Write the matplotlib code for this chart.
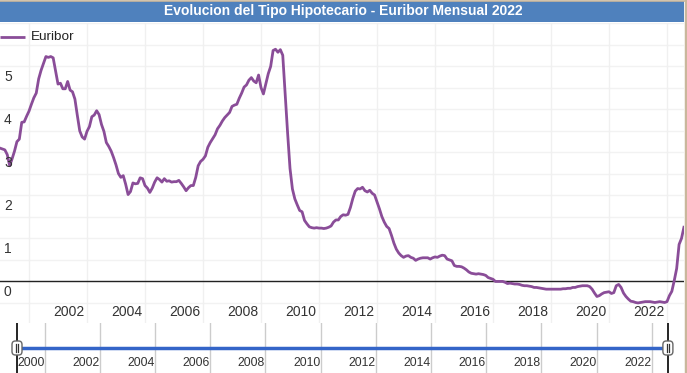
import matplotlib
matplotlib.use("Agg")
import matplotlib.pyplot as plt
from matplotlib.patches import Rectangle, FancyBboxPatch
from matplotlib.lines import Line2D

plt.rcParams['font.family'] = ['Liberation Sans', 'DejaVu Sans']

# monthly Euribor values, Jan 1999 .. Aug 2022
euribor = [
    3.09, 3.07, 3.05, 2.94, 2.68, 2.84, 3.02, 3.24, 3.30, 3.69, 3.70, 3.83,  # 1999
    3.95, 4.11, 4.26, 4.37, 4.70, 4.90, 5.06, 5.22, 5.20, 5.22, 5.19, 4.89,  # 2000
    4.58, 4.60, 4.47, 4.47, 4.64, 4.44, 4.40, 4.23, 3.85, 3.49, 3.35, 3.30,  # 2001
    3.48, 3.59, 3.82, 3.86, 3.96, 3.87, 3.64, 3.48, 3.22, 3.13, 3.02, 2.87,  # 2002
    2.70, 2.50, 2.41, 2.45, 2.25, 2.01, 2.08, 2.28, 2.26, 2.27, 2.40, 2.38,  # 2003
    2.22, 2.16, 2.06, 2.16, 2.30, 2.40, 2.36, 2.30, 2.38, 2.32, 2.33, 2.30,  # 2004
    2.31, 2.31, 2.34, 2.27, 2.19, 2.10, 2.17, 2.22, 2.22, 2.41, 2.68, 2.78,  # 2005
    2.83, 2.91, 3.11, 3.22, 3.31, 3.40, 3.54, 3.62, 3.72, 3.80, 3.86, 3.92,  # 2006
    4.06, 4.09, 4.11, 4.25, 4.37, 4.51, 4.56, 4.67, 4.73, 4.65, 4.61, 4.79,  # 2007
    4.50, 4.35, 4.59, 4.82, 4.99, 5.36, 5.39, 5.32, 5.38, 5.25, 4.35, 3.45,  # 2008
    2.62, 2.14, 1.91, 1.77, 1.64, 1.61, 1.41, 1.33, 1.26, 1.24, 1.23, 1.24,  # 2009
    1.23, 1.23, 1.22, 1.23, 1.25, 1.28, 1.37, 1.42, 1.42, 1.50, 1.54, 1.53,  # 2010
    1.55, 1.71, 1.92, 2.09, 2.15, 2.14, 2.18, 2.10, 2.07, 2.11, 2.04, 2.00,  # 2011
    1.84, 1.68, 1.50, 1.37, 1.27, 1.22, 1.06, 0.88, 0.74, 0.65, 0.59, 0.55,  # 2012
    0.58, 0.59, 0.55, 0.53, 0.48, 0.51, 0.53, 0.54, 0.54, 0.54, 0.51, 0.54,  # 2013
    0.56, 0.55, 0.58, 0.60, 0.59, 0.51, 0.49, 0.47, 0.36, 0.34, 0.34, 0.33,  # 2014
    0.30, 0.26, 0.21, 0.18, 0.17, 0.16, 0.17, 0.16, 0.15, 0.13, 0.08, 0.06,  # 2015
    0.04, -0.01, -0.01, -0.01, -0.01, -0.03, -0.06, -0.05, -0.06, -0.07, -0.07, -0.08,  # 2016
    -0.10, -0.11, -0.11, -0.12, -0.13, -0.15, -0.15, -0.16, -0.17, -0.18, -0.19, -0.19,  # 2017
    -0.19, -0.19, -0.19, -0.19, -0.19, -0.18, -0.18, -0.17, -0.17, -0.15, -0.15, -0.13,  # 2018
    -0.12, -0.11, -0.11, -0.11, -0.13, -0.19, -0.28, -0.36, -0.34, -0.30, -0.27, -0.26,  # 2019
    -0.25, -0.29, -0.27, -0.11, -0.08, -0.15, -0.28, -0.36, -0.42, -0.47, -0.48, -0.50,  # 2020
    -0.51, -0.50, -0.49, -0.48, -0.48, -0.48, -0.49, -0.50, -0.49, -0.48, -0.49, -0.50,  # 2021
    -0.48, -0.34, -0.24, 0.01, 0.29, 0.85, 0.99, 1.25,  # 2022
]
start_year = 1999
dates = [start_year + i / 12.0 for i in range(len(euribor))]

tick_years = list(range(2000, 2023, 2))
label_years = list(range(2002, 2023, 2))
nav_label_years = list(range(2000, 2023, 2))
y_labels = [0, 1, 2, 3, 4, 5]

title = 'Evolucion del Tipo Hipotecario - Euribor Mensual 2022'
series_name = 'Euribor'

W, H = 687, 373
line_color = '#8a4d98'
text_color = '#333333'


def box(x0, y0, x1, y1):
    return [x0 / W, 1 - y1 / H, (x1 - x0) / W, (y1 - y0) / H]


fig = plt.figure(figsize=(W / 100, H / 100), dpi=100)

# title bar
fig.patches.append(Rectangle((0, 1 - 22 / H), 684 / W, 21 / H, transform=fig.transFigure,
                             facecolor='#4f81bd', edgecolor='none'))
fig.text(343 / W, 1 - 11.5 / H, title, color='white', fontsize=10, fontweight='bold',
         ha='center', va='center')

# outer border (top and right)
fig.add_artist(Line2D([0, 1], [1 - 0.5 / H, 1 - 0.5 / H], transform=fig.transFigure,
                      color='#c9b79c', lw=1.2))
fig.add_artist(Line2D([685.5 / W, 685.5 / W], [0, 1], transform=fig.transFigure,
                      color='#c9b79c', lw=2.5))

# main chart
ax = fig.add_axes(box(0, 23, 684, 323))
ax.set_xlim(start_year, start_year + 684 / 29.0)
ax.set_ylim(-(323 - 281) / 43.0, (281 - 23) / 43.0)
for s in ax.spines.values():
    s.set_visible(False)
ax.set_xticks([])
ax.set_yticks([])

yv = -1.0
while yv <= 6.01:
    ax.axhline(yv, color='#f2f2f2', lw=1, zorder=0)
    yv += 0.5
for yr in tick_years:
    ax.axvline(yr, color='#f0f0f0', lw=1, zorder=0)
ax.axhline(0, color='#222222', lw=1, zorder=1)

ax.plot(dates, euribor, color=line_color, lw=2, zorder=3, solid_joinstyle='round')

for v in y_labels:
    ax.annotate(str(v), xy=(0, v), xycoords=('axes fraction', 'data'),
                xytext=(4, -11), textcoords='offset pixels',
                fontsize=10, color=text_color, ha='left', va='center')

for yr in label_years:
    ax.text(yr - 0.62, 11 / 300.0, str(yr), transform=ax.get_xaxis_transform(),
            fontsize=10, color=text_color, ha='center', va='center')

# legend
ax.plot([start_year, start_year + 25 / 29.0], [(281 - 37) / 43.0] * 2,
        color=line_color, lw=2, zorder=3, solid_capstyle='butt')
ax.text(start_year + 31 / 29.0, (281 - 37) / 43.0, series_name, fontsize=9.7,
        color='#222222', ha='left', va='center')

# navigator
nav = fig.add_axes(box(0, 323, 684, 373))
px_per_year = 27.6
nav.set_xlim(start_year - 17 / px_per_year, start_year + 667 / px_per_year)
nav.set_ylim(50, 0)
for s in nav.spines.values():
    s.set_visible(False)
nav.set_xticks([])
nav.set_yticks([])
for yr in tick_years:
    nav.axvline(yr, color='#cccccc', lw=1, zorder=0)
nav.plot([dates[0], dates[-1]], [25, 25], color='#3465c8', lw=2.5, zorder=2)
for yr in nav_label_years:
    nav.text(yr - 1, 40, str(yr), fontsize=8.8, color=text_color, ha='left', va='center')
for xd in (dates[0], dates[-1]):
    nav.axvline(xd, color='black', lw=1.2, zorder=3)
    hw = 5 / px_per_year
    nav.add_patch(FancyBboxPatch((xd - hw, 18), 2 * hw, 14,
                                 boxstyle='round,pad=0,rounding_size=0.12',
                                 mutation_aspect=30,
                                 facecolor='white', edgecolor='#666666', lw=1, zorder=4))
    for dx in (-1.2, 1.2):
        nav.plot([xd + dx / px_per_year] * 2, [21, 29], color='#333333', lw=0.9, zorder=5)

fig.savefig('out.png', dpi=100)
